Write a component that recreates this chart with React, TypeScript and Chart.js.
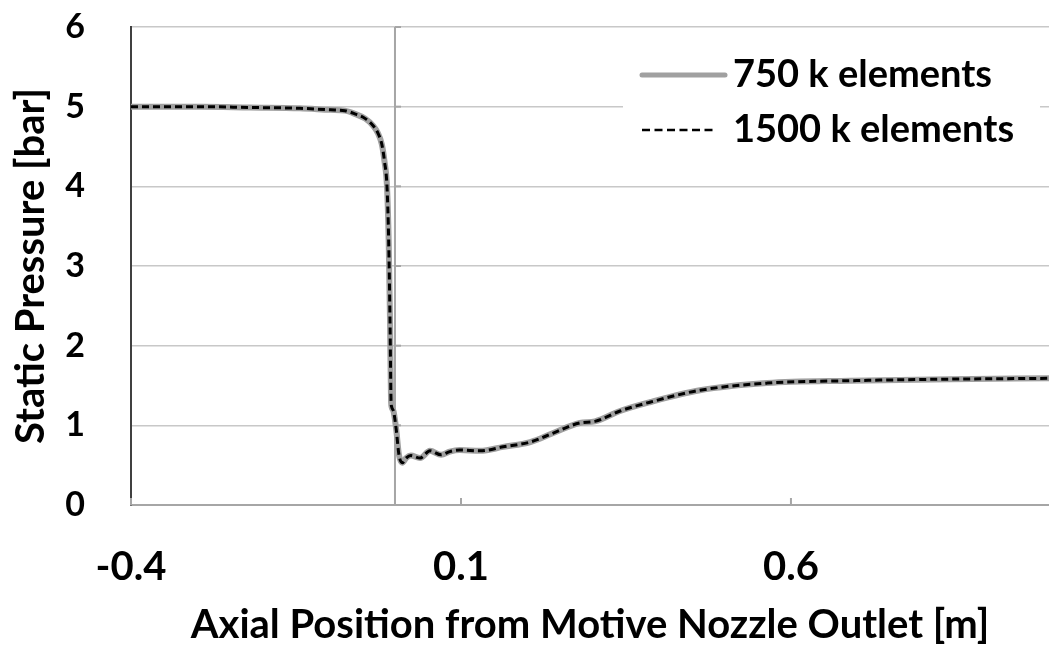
import React, { useEffect, useRef } from "react";
import { Chart, registerables } from "chart.js";

Chart.register(...registerables);

// Axial position [m]
const positions = [
  -0.4, -0.295, -0.22, -0.144, -0.098, -0.076, -0.061, -0.045, -0.033, -0.026,
  -0.02, -0.016, -0.012, -0.0095, -0.0075, -0.006, -0.005, -0.002, 0.002, 0.006,
  0.011, 0.017, 0.024, 0.038, 0.053, 0.07, 0.083, 0.098, 0.129, 0.164,
  0.205, 0.239, 0.28, 0.303, 0.341, 0.386, 0.462, 0.564, 0.689, 0.841, 0.991,
];
// Static pressure [bar], 750 k elements
const pressure750 = [
  5.0, 5.0, 4.99, 4.98, 4.96, 4.95, 4.91, 4.85, 4.76, 4.67,
  4.53, 4.32, 3.98, 3.3, 2.3, 1.32, 1.23, 1.17, 0.94, 0.63,
  0.53, 0.59, 0.62, 0.59, 0.68, 0.63, 0.67, 0.69, 0.68, 0.73,
  0.79, 0.9, 1.03, 1.05, 1.18, 1.29, 1.44, 1.53, 1.56, 1.58, 1.59,
];
// Static pressure [bar], 1500 k elements
const pressure1500 = [
  5.0, 5.0, 4.99, 4.98, 4.96, 4.95, 4.91, 4.85, 4.76, 4.67,
  4.53, 4.32, 3.98, 3.3, 2.3, 1.32, 1.23, 1.17, 0.94, 0.63,
  0.53, 0.59, 0.62, 0.59, 0.68, 0.63, 0.67, 0.69, 0.68, 0.73,
  0.79, 0.9, 1.03, 1.05, 1.18, 1.29, 1.44, 1.53, 1.56, 1.58, 1.59,
];
const xTickValues = [-0.4, 0.1, 0.6];
const yTickValues = [0, 1, 2, 3, 4, 5, 6];
const outletPosition = 0;
const seriesLabels = ["750 k elements", "1500 k elements"];
const xMin = -0.4;
const xMax = 0.991;

const FONT = "Lato, 'Open Sans', sans-serif";

const extrasPlugin = {
  id: "extras",
  beforeDatasetsDraw(chart: any) {
    const { ctx, chartArea, scales } = chart;
    const x = scales.x;
    const y = scales.y;
    ctx.save();
    const px = x.getPixelForValue(outletPosition);
    ctx.strokeStyle = "#a6a6a6";
    ctx.lineWidth = 2;
    ctx.beginPath();
    ctx.moveTo(px, chartArea.top);
    ctx.lineTo(px, chartArea.bottom);
    ctx.stroke();
    for (const v of yTickValues) {
      const py = y.getPixelForValue(v);
      ctx.beginPath();
      ctx.moveTo(px, py);
      ctx.lineTo(px + 6, py);
      ctx.stroke();
    }
    for (const v of xTickValues) {
      const tx = x.getPixelForValue(v);
      ctx.beginPath();
      ctx.moveTo(tx, chartArea.bottom);
      ctx.lineTo(tx, chartArea.bottom - 7);
      ctx.stroke();
    }
    ctx.restore();
  },
  afterDraw(chart: any) {
    const { ctx, chartArea } = chart;
    ctx.save();
    const boxLeft = chartArea.right - 426;
    const boxTop = chartArea.top + 18;
    ctx.fillStyle = "#ffffff";
    ctx.fillRect(boxLeft, boxTop, 417, 118);
    const sx0 = boxLeft + 19;
    const row1 = chartArea.top + 48;
    const row2 = chartArea.top + 103;
    ctx.strokeStyle = "#a0a0a0";
    ctx.lineWidth = 5;
    ctx.lineCap = "round";
    ctx.beginPath();
    ctx.moveTo(sx0, row1);
    ctx.lineTo(sx0 + 83, row1);
    ctx.stroke();
    ctx.strokeStyle = "#000000";
    ctx.lineWidth = 2.5;
    ctx.lineCap = "butt";
    ctx.setLineDash([8, 4.5]);
    ctx.beginPath();
    ctx.moveTo(sx0, row2);
    ctx.lineTo(sx0 + 75, row2);
    ctx.stroke();
    ctx.setLineDash([]);
    ctx.fillStyle = "#000000";
    ctx.font = `bold 38px ${FONT}`;
    ctx.textBaseline = "middle";
    ctx.textAlign = "left";
    ctx.fillText(seriesLabels[0], sx0 + 91, row1);
    ctx.fillText(seriesLabels[1], sx0 + 91, row2);
    ctx.restore();
  },
};

export default function App() {
  const canvasRef = useRef<HTMLCanvasElement | null>(null);

  useEffect(() => {
    if (!canvasRef.current) return;
    const chart = new Chart(canvasRef.current, {
      type: "line",
      data: {
        datasets: [
          {
            label: seriesLabels[0],
            data: positions.map((p, i) => ({ x: p, y: pressure750[i] })),
            borderColor: "#a0a0a0",
            borderWidth: 6,
            pointRadius: 0,
            cubicInterpolationMode: "monotone",
            fill: false,
            order: 1,
          },
          {
            label: seriesLabels[1],
            data: positions.map((p, i) => ({ x: p, y: pressure1500[i] })),
            borderColor: "#000000",
            borderWidth: 3,
            borderDash: [7, 4],
            pointRadius: 0,
            cubicInterpolationMode: "monotone",
            fill: false,
            order: 0,
          },
        ],
      },
      options: {
        animation: false,
        responsive: false,
        maintainAspectRatio: false,
        layout: { padding: { top: 27, right: 0, left: 0, bottom: 0 } },
        plugins: {
          legend: { display: false },
          tooltip: { enabled: false },
        },
        scales: {
          x: {
            type: "linear",
            min: xMin,
            max: xMax,
            afterBuildTicks: (scale: any) => {
              scale.ticks = xTickValues.map((v) => ({ value: v }));
            },
            afterFit: (scale: any) => {
              scale.height = 146;
            },
            grid: { display: false, drawTicks: false },
            border: { display: true, color: "#a6a6a6", width: 2 },
            ticks: {
              color: "#000",
              padding: 38,
              maxRotation: 0,
              autoSkip: false,
              font: { family: FONT, size: 40, weight: "bold" },
              callback: (v: any) => String(v),
            },
            title: {
              display: true,
              text: "Axial Position from Motive Nozzle Outlet [m]",
              color: "#000",
              font: { family: FONT, size: 40, weight: "bold" },
              padding: { top: 0, bottom: 2 },
            },
          },
          y: {
            type: "linear",
            min: 0,
            max: 6,
            afterBuildTicks: (scale: any) => {
              scale.ticks = yTickValues.map((v) => ({ value: v }));
            },
            afterFit: (scale: any) => {
              scale.width = 131;
            },
            grid: {
              color: "#c8c8c8",
              lineWidth: 1.5,
              drawTicks: true,
              tickLength: 46,
              tickColor: "rgba(0,0,0,0)",
            },
            border: { display: true, color: "#404040", width: 2 },
            ticks: {
              color: "#000",
              padding: 0,
              font: { family: FONT, size: 34, weight: "bold" },
            },
            title: {
              display: true,
              text: "Static Pressure [bar]",
              color: "#000",
              font: { family: FONT, size: 40, weight: "bold" },
              padding: { top: 7, bottom: 0 },
            },
          },
        },
      },
      plugins: [extrasPlugin],
    });
    return () => chart.destroy();
  }, []);

  return (
    <div style={{ position: "absolute", left: 0, top: 0, width: 1049, height: 651, background: "#fff" }}>
      <canvas ref={canvasRef} width={1049} height={651} style={{ display: "block", width: 1049, height: 651 }} />
    </div>
  );
}
